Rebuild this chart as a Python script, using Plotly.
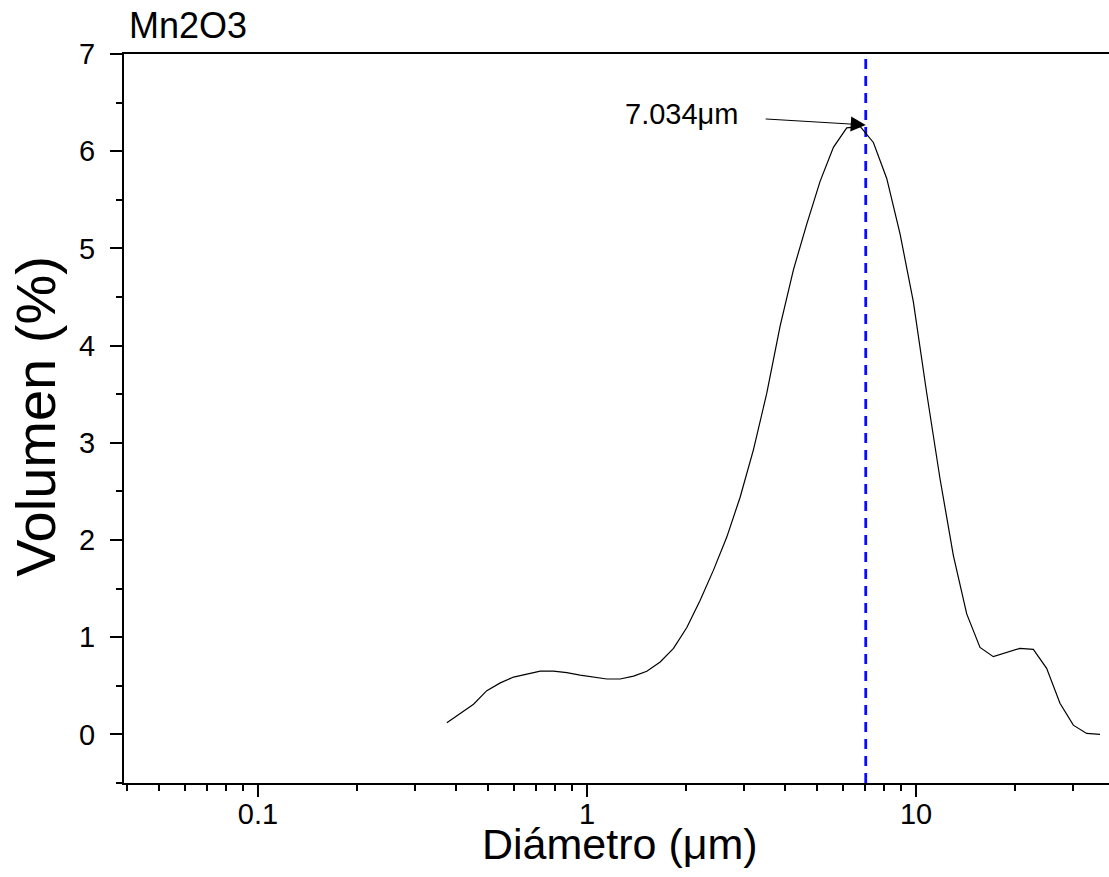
import math
import plotly.graph_objects as go

# Particle size distribution of Mn2O3 (laser diffraction, volume basis)
diameter_um = [
    0.375, 0.412, 0.452, 0.496, 0.545, 0.598, 0.656, 0.721, 0.791, 0.868,
    0.953, 1.047, 1.149, 1.261, 1.385, 1.520, 1.669, 1.832, 2.011, 2.208,
    2.423, 2.660, 2.920, 3.206, 3.519, 3.863, 4.240, 4.655, 5.110, 5.610,
    6.158, 6.760, 7.421, 8.147, 8.943, 9.817, 10.78, 11.83, 12.99, 14.26,
    15.65, 17.18, 18.86, 20.70, 22.73, 24.95, 27.39, 30.07, 33.01, 36.24,
]
volume_pct = [
    0.12, 0.22, 0.31, 0.45, 0.53, 0.59, 0.62, 0.65, 0.65, 0.635,
    0.61, 0.59, 0.57, 0.57, 0.60, 0.65, 0.745, 0.885, 1.10, 1.38,
    1.69, 2.03, 2.44, 2.93, 3.51, 4.20, 4.78, 5.25, 5.69, 6.04,
    6.24, 6.255, 6.09, 5.72, 5.15, 4.45, 3.51, 2.63, 1.84, 1.24,
    0.895, 0.80, 0.84, 0.885, 0.875, 0.68, 0.32, 0.095, 0.01, 0.0,
]

# Mode of the distribution
mode_um = 7.034
mode_pct = 6.27
mode_label = "7.034\u03bcm"

# Axis ticks
x_major = [0.1, 1, 10]
x_major_text = ["0.1", "1", "10"]
x_minor = [0.04, 0.05, 0.06, 0.07, 0.08, 0.09,
           0.2, 0.3, 0.4, 0.5, 0.6, 0.7, 0.8, 0.9,
           2, 3, 4, 5, 6, 7, 8, 9, 20, 30]
y_range = [-0.5, 7]
x_range_log = [-1.4073, 1.5866]

FONT = "Arial, Liberation Sans, sans-serif"

fig = go.Figure()

fig.add_trace(go.Scatter(
    x=[mode_um, mode_um], y=y_range,
    mode="lines",
    line=dict(color="#0a0aff", width=2.8, dash="10px,7px"),
    hoverinfo="skip", showlegend=False,
))

fig.add_trace(go.Scatter(
    x=diameter_um, y=volume_pct,
    mode="lines",
    line=dict(color="black", width=1.2),
    showlegend=False,
))

fig.update_layout(
    width=1109, height=877,
    margin=dict(l=124, r=0, t=54, b=94),
    paper_bgcolor="white", plot_bgcolor="white",
    font=dict(family=FONT, color="black", size=29),
)

fig.update_xaxes(
    type="log", range=x_range_log,
    showgrid=False, zeroline=False,
    showline=True, linecolor="black", linewidth=2, mirror=True,
    ticks="outside", ticklen=12, tickwidth=2, tickcolor="black",
    tickvals=x_major, ticktext=x_major_text,
    tickfont=dict(family=FONT, size=29),
    ticklabelstandoff=-8,
    minor=dict(tickvals=x_minor, ticks="outside", ticklen=6,
               tickwidth=2, tickcolor="black", showgrid=False),
)

fig.update_yaxes(
    range=y_range,
    showgrid=False, zeroline=False,
    showline=True, linecolor="black", linewidth=2,
    ticks="outside", ticklen=12, tickwidth=2, tickcolor="black",
    tick0=0, dtick=1,
    tickfont=dict(family=FONT, size=29),
    ticklabelstandoff=9,
    minor=dict(dtick=0.5, ticks="outside", ticklen=6,
               tickwidth=2, tickcolor="black", showgrid=False),
)

fig.add_annotation(
    x=math.log10(mode_um), y=mode_pct, xref="x", yref="y",
    text=mode_label, font=dict(family=FONT, size=29),
    showarrow=True, ax=-184, ay=-11,
    arrowhead=2, arrowsize=3, arrowwidth=1, arrowcolor="black",
    startstandoff=26, standoff=0,
)

# Sample name
fig.add_annotation(
    text="Mn2O3", xref="paper", yref="paper",
    x=0.003, y=1.0392, xanchor="left", yanchor="middle",
    showarrow=False, font=dict(family=FONT, size=36),
)

# Axis titles
fig.add_annotation(
    text="Di\u00e1metro (\u03bcm)", xref="paper", yref="paper",
    x=0.5036, y=-0.0830, xanchor="center", yanchor="middle",
    showarrow=False, font=dict(family=FONT, size=43),
)
fig.add_annotation(
    text="Volumen (%)", xref="paper", yref="paper",
    x=-0.0900, y=0.503, xanchor="center", yanchor="middle",
    textangle=-90,
    showarrow=False, font=dict(family=FONT, size=56),
)

fig.write_html("out.html")
